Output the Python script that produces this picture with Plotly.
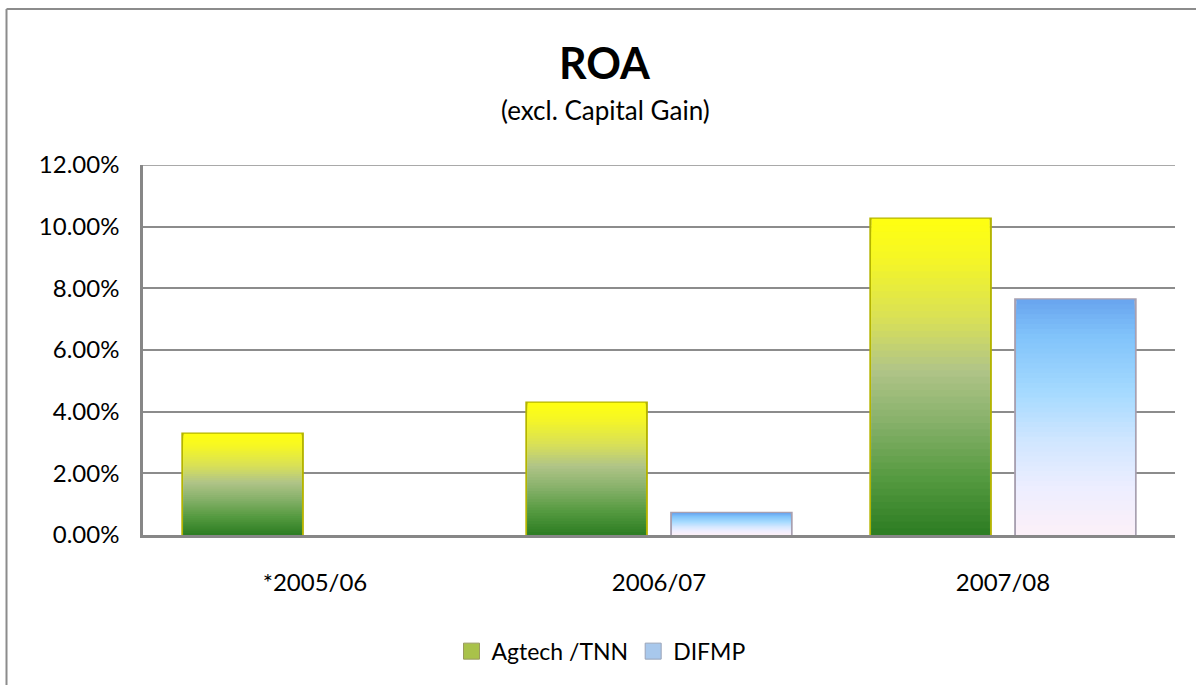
import plotly.graph_objects as go

# ---- data ----
categories = ["*2005/06", "2006/07", "2007/08"]
agtech = [0.0328, 0.0429, 0.1026]
difmp = [None, 0.0071, 0.0764]
series_names = ["Agtech /TNN", "DIFMP"]
y_ticks = [0.0, 0.02, 0.04, 0.06, 0.08, 0.10, 0.12]

# ---- styling ----
FONT = "Lato"
N_STEPS = 48
BAR_W = 0.349
OFFSETS = [-0.385, 0.036]

agtech_stops = [(0.0, "#2c7c22"), (0.18, "#559a40"), (0.35, "#85b068"),
                (0.52, "#b0c488"), (0.68, "#d8e058"), (0.88, "#f6f724"), (1.0, "#ffff10")]
difmp_stops = [(0.0, "#fcf0f8"), (0.2, "#edeeff"), (0.4, "#d0e6ff"),
               (0.6, "#a6daff"), (0.85, "#80c2fa"), (1.0, "#68a4ee")]
outline_colors = ["#b4b400", "#a8a0b0"]
legend_colors = ["#a9c24a", "#a8c8ec"]


def hex2rgb(h):
    h = h.lstrip("#")
    return tuple(int(h[i:i + 2], 16) for i in (0, 2, 4))


def interp(stops, t):
    for (t0, c0), (t1, c1) in zip(stops[:-1], stops[1:]):
        if t0 <= t <= t1:
            a = (t - t0) / (t1 - t0) if t1 > t0 else 0
            r0, g0, b0 = hex2rgb(c0)
            r1, g1, b1 = hex2rgb(c1)
            return "rgb(%d,%d,%d)" % (round(r0 + (r1 - r0) * a), round(g0 + (g1 - g0) * a),
                                      round(b0 + (b1 - b0) * a))
    return stops[-1][1]


fig = go.Figure()

for vals, stops, off, oc in [(agtech, agtech_stops, OFFSETS[0], outline_colors[0]),
                              (difmp, difmp_stops, OFFSETS[1], outline_colors[1])]:
    # outline (full bar)
    fig.add_trace(go.Bar(x=categories, y=vals, width=BAR_W, offset=off,
                         marker=dict(color="rgba(0,0,0,0)", line=dict(color=oc, width=2.5)),
                         cliponaxis=False, showlegend=False, hoverinfo="skip"))
    # gradient fill made of overlaid, shrinking bars
    for k in range(N_STEPS):
        frac = 1 - k / N_STEPS
        ys = [v * frac if v is not None else None for v in vals]
        col = interp(stops, 1 - (k + 0.5) / N_STEPS)
        fig.add_trace(go.Bar(x=categories, y=ys, width=BAR_W - 0.006, offset=off + 0.003,
                             marker=dict(color=col, line=dict(width=0)),
                             showlegend=False, hoverinfo="skip"))

# legend proxies
for name, col in zip(series_names, legend_colors):
    fig.add_trace(go.Scatter(x=[None], y=[None], mode="markers", name=name,
                             marker=dict(symbol="square", size=16, color=col,
                                         line=dict(color="#9a9a60" if col == legend_colors[0] else "#9aa4b8", width=1))))

PX_L, PX_R, PX_T, PX_B = 143, 1175, 164.5, 535.5
PW, PH = PX_R - PX_L, PX_B - PX_T


def px(x):
    return (x - PX_L) / PW


def py(y):
    return (PX_B - y) / PH


fig.update_layout(
    width=1196, height=685,
    margin=dict(l=PX_L, r=1196 - PX_R, t=PX_T, b=685 - PX_B, pad=0),
    paper_bgcolor="white", plot_bgcolor="white",
    barmode="overlay",
    font=dict(family=FONT, size=24, color="black"),
    showlegend=True,
    legend=dict(orientation="h", x=px(601), xanchor="center", y=py(652), yanchor="middle",
                font=dict(size=23), itemwidth=30, tracegroupgap=0, bgcolor="rgba(0,0,0,0)"),
    xaxis=dict(type="category", showgrid=False, showline=True, linecolor="#878787", linewidth=3,
               ticks="", ticklabelstandoff=24, tickfont=dict(size=24), fixedrange=True),
    yaxis=dict(range=[0, 0.12], tickvals=y_ticks, tickformat=".2%", showgrid=True,
               gridcolor="#8c8c8c", gridwidth=1.5, zeroline=False, showline=True,
               linecolor="#878787", linewidth=2.5, ticks="", ticklabelstandoff=16,
               tickfont=dict(size=24)),
    annotations=[
        dict(text="<b>ROA</b>", x=px(605), y=py(62), xref="paper", yref="paper",
             xanchor="center", yanchor="middle", showarrow=False, font=dict(size=43)),
        dict(text="(excl. Capital Gain)", x=px(605), y=py(109), xref="paper", yref="paper",
             xanchor="center", yanchor="middle", showarrow=False, font=dict(size=26)),
    ],
    shapes=[
        dict(type="line", xref="paper", yref="y", x0=0, x1=1, y0=y_ticks[-1], y1=y_ticks[-1],
             line=dict(color="#8c8c8c", width=1.5), layer="below"),
        dict(type="line", xref="paper", yref="paper", x0=px(6.5), x1=px(6.5), y0=py(8), y1=py(720),
             line=dict(color="#8c8c8c", width=2)),
        dict(type="line", xref="paper", yref="paper", x0=px(6.5), x1=px(1230), y0=py(8), y1=py(8),
             line=dict(color="#8c8c8c", width=2)),
    ],
)

fig.write_html("out.html", config={"displayModeBar": False},
               post_script="document.body.style.margin='0';document.body.style.padding='0';")
